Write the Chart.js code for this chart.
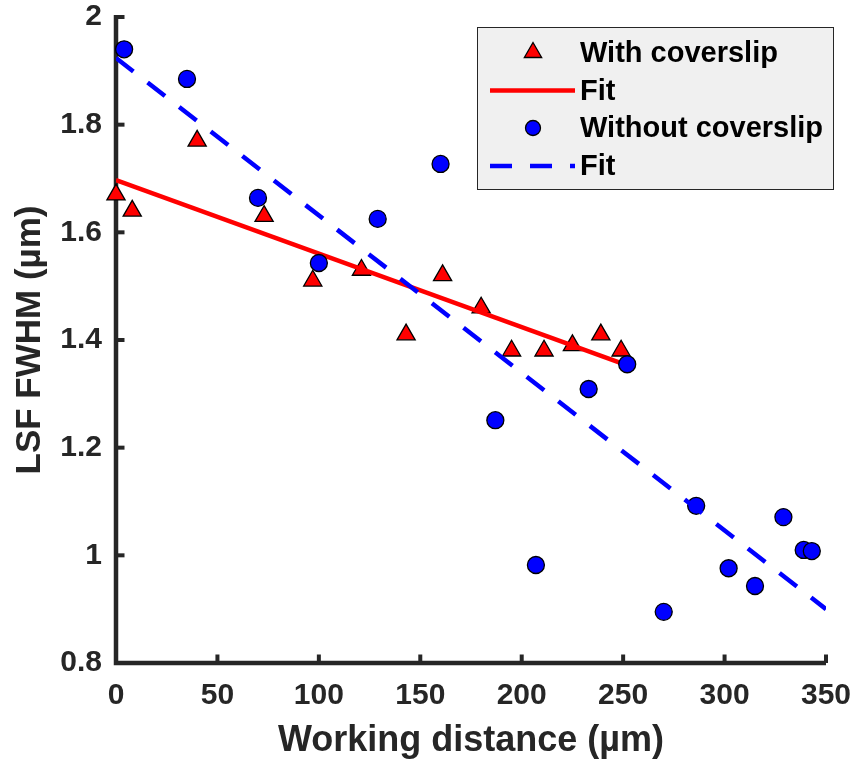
<!DOCTYPE html>
<html>
<head>
<meta charset="utf-8">
<script src="https://cdn.jsdelivr.net/npm/chart.js@4.4.1/dist/chart.umd.min.js"></script>
<style>
  body { margin: 0; background: #fff; }
  canvas { display: block; }
</style>
</head>
<body>
<canvas id="fwhmChart" width="855" height="765"></canvas>
<script>
// with coverslip (red triangles)
var withX = [0, 8, 40, 73, 97, 121, 143, 161, 180, 195, 211, 225, 239, 249]
var withY = [1.67, 1.64, 1.77, 1.63, 1.51, 1.53, 1.41, 1.52, 1.46, 1.38, 1.38, 1.39, 1.41, 1.38]

// without coverslip (blue circles)
var withoutX = [4, 35, 70, 100, 129, 160, 187, 207, 233, 252, 270, 286, 302, 315, 329, 339, 343]
var withoutY = [1.94, 1.885, 1.664, 1.543, 1.625, 1.727, 1.251, 0.982, 1.309, 1.355, 0.895, 1.092, 0.976, 0.943, 1.071, 1.010, 1.008]

// linear fits, end points
var withFitX = [0, 249]
var withFitY = [1.697, 1.357]
var withoutFitX = [0, 350]
var withoutFitY = [1.924, 0.900]

var seriesLabels = ['With coverslip', 'Fit', 'Without coverslip', 'Fit']

var xTicks = [0, 50, 100, 150, 200, 250, 300, 350]
var xTickLabels = ['0', '50', '100', '150', '200', '250', '300', '350']
var yTicks = [0.8, 1, 1.2, 1.4, 1.6, 1.8, 2]
var yTickLabels = ['0.8', '1', '1.2', '1.4', '1.6', '1.8', '2']

var axisColor = '#262626'
var fontFamily = '"Liberation Sans", Arial, sans-serif'

function toPoints(xs, ys) {
    return xs.map(function (x, i) { return {x: x, y: ys[i]} })
}

// matlab style axes: left + bottom lines, ticks pointing inward
var matlabAxes = {
    id: 'matlabAxes',
    beforeDatasetsDraw: function (chart) {
        var ctx = chart.ctx
        var a = chart.chartArea
        var sx = chart.scales.x, sy = chart.scales.y
        ctx.save()
        ctx.strokeStyle = axisColor
        ctx.lineWidth = 4.5
        ctx.lineJoin = 'miter'
        ctx.beginPath()
        ctx.moveTo(a.left, a.top - 2)
        ctx.lineTo(a.left, a.bottom)
        ctx.lineTo(a.right, a.bottom)
        ctx.stroke()
        ctx.lineWidth = 4
        sx.ticks.forEach(function (t) {
            var px = sx.getPixelForValue(t.value)
            ctx.beginPath()
            ctx.moveTo(px, a.bottom)
            ctx.lineTo(px, a.bottom - 8.5)
            ctx.stroke()
        })
        sy.ticks.forEach(function (t) {
            var py = sy.getPixelForValue(t.value)
            ctx.beginPath()
            ctx.moveTo(a.left, py)
            ctx.lineTo(a.left + 8.5, py)
            ctx.stroke()
        })
        ctx.restore()
    }
}

// boxed legend like the matlab one
var boxLegend = {
    id: 'boxLegend',
    afterDraw: function (chart) {
        var ctx = chart.ctx
        var ds = chart.data.datasets
        var bx = 477, by = 27, bw = 357, bh = 163
        ctx.save()
        ctx.fillStyle = '#f0f0f0'
        ctx.fillRect(bx, by, bw, bh)
        ctx.strokeStyle = axisColor
        ctx.lineWidth = 1
        ctx.strokeRect(bx + 0.5, by + 0.5, bw - 1, bh - 1)

        var rows = [52.5, 90.5, 128, 166]
        ctx.font = 'bold 29px ' + fontFamily
        ctx.textBaseline = 'middle'
        ctx.textAlign = 'left'
        ds.forEach(function (d) {
            var r = rows[d.legendRow]
            if (d.showLine) {
                ctx.strokeStyle = d.borderColor
                ctx.lineWidth = 4.5
                ctx.setLineDash(d.borderDash || [])
                ctx.beginPath()
                ctx.moveTo(490, r)
                ctx.lineTo(575, r)
                ctx.stroke()
                ctx.setLineDash([])
            } else if (d.pointStyle === 'triangle') {
                var rad = 10
                ctx.fillStyle = d.backgroundColor
                ctx.strokeStyle = '#000'
                ctx.lineWidth = 1.3
                ctx.beginPath()
                ctx.moveTo(533, r - rad)
                ctx.lineTo(533 + rad * Math.sin(2 * Math.PI / 3), r + rad / 2)
                ctx.lineTo(533 - rad * Math.sin(2 * Math.PI / 3), r + rad / 2)
                ctx.closePath()
                ctx.fill()
                ctx.stroke()
            } else {
                ctx.fillStyle = d.backgroundColor
                ctx.strokeStyle = '#000'
                ctx.lineWidth = 1.3
                ctx.beginPath()
                ctx.arc(533, r, 7.5, 0, Math.PI * 2)
                ctx.fill()
                ctx.stroke()
            }
            ctx.fillStyle = '#000'
            ctx.fillText(d.label, 580, r + 1)
        })
        ctx.restore()
    }
}

var fwhmCanvas = document.getElementById('fwhmChart')

var fwhmChart = new Chart(fwhmCanvas, {
    type: 'scatter',
    data: {
        datasets: [{
            label: seriesLabels[0],
            legendRow: 0,
            data: toPoints(withX, withY),
            pointStyle: 'triangle',
            pointRadius: 10.5,
            backgroundColor: '#ff0000',
            borderColor: '#000',
            pointBorderWidth: 1.3,
            showLine: false,
            order: 4,
            clip: false
        }, {
            label: seriesLabels[1],
            legendRow: 1,
            type: 'line',
            data: toPoints(withFitX, withFitY),
            borderColor: '#ff0000',
            borderWidth: 4.5,
            pointRadius: 0,
            showLine: true,
            fill: false,
            order: 3
        }, {
            label: seriesLabels[2],
            legendRow: 2,
            data: toPoints(withoutX, withoutY),
            pointStyle: 'circle',
            pointRadius: 8.5,
            backgroundColor: '#0000ff',
            borderColor: '#000',
            pointBorderWidth: 1.3,
            showLine: false,
            order: 2,
            clip: false
        }, {
            label: seriesLabels[3],
            legendRow: 3,
            type: 'line',
            data: toPoints(withoutFitX, withoutFitY),
            borderColor: '#0000ff',
            borderWidth: 4.5,
            borderDash: [22, 18],
            pointRadius: 0,
            showLine: true,
            fill: false,
            order: 1
        }]
    },
    options: {
        responsive: false,
        animation: false,
        layout: {
            padding: {top: 17, right: 29, left: 0, bottom: 0}
        },
        scales: {
            x: {
                type: 'linear',
                min: 0,
                max: 350,
                afterFit: function (s) {
                    s.height = 102
                    s.paddingLeft = 0
                    s.paddingRight = 0
                },
                afterBuildTicks: function (s) {
                    s.ticks = xTicks.map(function (v) { return {value: v} })
                },
                grid: {display: true, drawOnChartArea: false, drawTicks: false},
                border: {display: false},
                ticks: {
                    padding: 15,
                    maxRotation: 0,
                    color: axisColor,
                    font: {family: fontFamily, size: 30, weight: 'bold'},
                    callback: function (v, i) { return xTickLabels[i] }
                },
                title: {
                    display: true,
                    text: 'Working distance (µm)',
                    color: axisColor,
                    font: {family: fontFamily, size: 36, weight: 'bold'},
                    padding: {top: 0, bottom: 2}
                }
            },
            y: {
                type: 'linear',
                min: 0.8,
                max: 2,
                afterFit: function (s) {
                    s.width = 116
                    s.paddingTop = 0
                    s.paddingBottom = 0
                },
                afterBuildTicks: function (s) {
                    s.ticks = yTicks.map(function (v) { return {value: v} })
                },
                grid: {display: true, drawOnChartArea: false, drawTicks: false},
                border: {display: false},
                ticks: {
                    padding: 14,
                    color: axisColor,
                    font: {family: fontFamily, size: 30, weight: 'bold'},
                    callback: function (v, i) { return yTickLabels[i] }
                },
                title: {
                    display: true,
                    text: 'LSF FWHM (µm)',
                    color: axisColor,
                    font: {family: fontFamily, size: 35, weight: 'bold'},
                    padding: {top: 9, bottom: 0}
                }
            }
        },
        plugins: {
            legend: {display: false},
            tooltip: {enabled: false}
        }
    },
    plugins: [matlabAxes, boxLegend]
})
</script>
</body>
</html>
